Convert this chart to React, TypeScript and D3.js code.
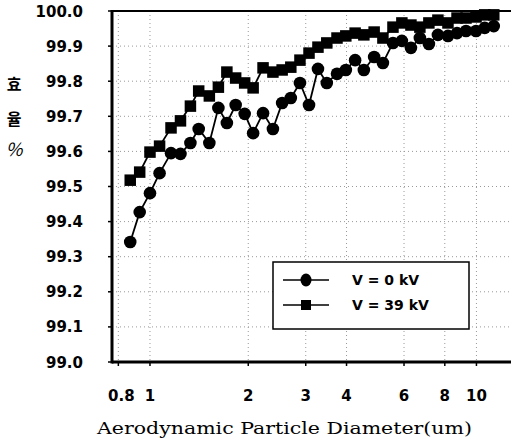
import React from "react";
import * as d3 from "d3";

const diameters = [0.87, 0.93, 1.0, 1.07, 1.16, 1.24, 1.33, 1.41, 1.52, 1.62, 1.72, 1.83, 1.95, 2.07, 2.22, 2.38, 2.54, 2.7, 2.88, 3.07, 3.27, 3.48, 3.74, 3.98, 4.25, 4.52, 4.86, 5.17, 5.55, 5.91, 6.3, 6.71, 7.15, 7.62, 8.18, 8.72, 9.29, 9.97, 10.6, 11.3];

const eff0kV = [99.342, 99.427, 99.481, 99.538, 99.595, 99.593, 99.624, 99.664, 99.624, 99.724, 99.681, 99.732, 99.707, 99.652, 99.709, 99.664, 99.738, 99.752, 99.795, 99.732, 99.835, 99.795, 99.821, 99.832, 99.86, 99.832, 99.869, 99.852, 99.909, 99.915, 99.895, 99.923, 99.906, 99.932, 99.929, 99.937, 99.943, 99.943, 99.952, 99.957];

const eff39kV = [99.518, 99.541, 99.598, 99.615, 99.667, 99.687, 99.729, 99.772, 99.758, 99.783, 99.826, 99.809, 99.795, 99.781, 99.838, 99.826, 99.832, 99.84, 99.86, 99.88, 99.897, 99.909, 99.923, 99.929, 99.937, 99.932, 99.94, 99.923, 99.954, 99.966, 99.96, 99.954, 99.966, 99.974, 99.966, 99.98, 99.98, 99.983, 99.989, 99.989];

const yTicks = [99.0, 99.1, 99.2, 99.3, 99.4, 99.5, 99.6, 99.7, 99.8, 99.9, 100.0];
const xTicks = [0.8, 1, 2, 3, 4, 6, 8, 10];
const xTickLabels = ["0.8", "1", "2", "3", "4", "6", "8", "10"];
const seriesNames = ["V = 0 kV", "V = 39 kV"];
const yLabelChars = ["효", "율", "%"];
const xTitle = "Aerodynamic Particle Diameter(um)";

const W = 511, H = 444;
const L = 112, R = 511, T = 11, B = 362;

export default function App() {
  const x = d3.scaleLog().domain([0.765, 12.76]).range([L, R]);
  const y = d3.scaleLinear().domain([99, 100]).range([B, T]);
  const line = d3.line<number>().x((_, i) => x(diameters[i])).y((v) => y(v));
  const sans = "DejaVu Sans, sans-serif";
  const circleR = 6.3;
  const sq = 11.5;

  return (
    <svg width={W} height={H} style={{ position: "absolute", left: 0, top: 0, background: "#fff" }}>
      <rect width={W} height={H} fill="#fff" />
      {/* grid */}
      {yTicks.filter((t) => t > 99 && t < 100).map((t) => (
        <line key={"gy" + t} x1={L} x2={R} y1={y(t)} y2={y(t)} stroke="#999" strokeWidth={1} strokeDasharray="1,3" />
      ))}
      {xTicks.map((t) => (
        <line key={"gx" + t} x1={x(t)} x2={x(t)} y1={T} y2={B} stroke="#999" strokeWidth={1} strokeDasharray="1,3" />
      ))}
      {/* axes frame */}
      <line x1={L} x2={R} y1={T} y2={T} stroke="#000" strokeWidth={2} />
      <line x1={L} x2={R} y1={B} y2={B} stroke="#000" strokeWidth={3} />
      <line x1={L} x2={L} y1={T - 1} y2={B + 1.5} stroke="#000" strokeWidth={3} />
      {/* y ticks & labels */}
      {yTicks.map((t) => (
        <g key={"yt" + t}>
          <line x1={L - 4} x2={L} y1={y(t)} y2={y(t)} stroke="#000" strokeWidth={1.5} />
          <text x={83} y={y(t) + 5.5} textAnchor="end" fontFamily={sans} fontWeight="bold" fontSize={15} fill="#000">
            {d3.format(".1f")(t)}
          </text>
        </g>
      ))}
      {/* x ticks & labels */}
      {xTicks.map((t, i) => (
        <g key={"xt" + t}>
          <line x1={x(t)} x2={x(t)} y1={B} y2={B + 4} stroke="#000" strokeWidth={1.5} />
          <text x={x(t) + (i === 0 ? 3 : 0)} y={401} textAnchor="middle" fontFamily={sans} fontWeight="bold" fontSize={15} fill="#000">
            {xTickLabels[i]}
          </text>
        </g>
      ))}
      {/* y label */}
      {yLabelChars.map((c, i) => (
        <text key={"yl" + i} x={14} y={(i === 2 ? 156 : 90) + (i === 1 ? 35 : 0)} textAnchor="middle" fontFamily="'Noto Sans CJK KR', sans-serif" fontWeight={i === 2 ? "normal" : "bold"} fontSize={i === 2 ? 18 : 16} fontStyle={i === 2 ? "italic" : "normal"} fill="#000">
          {c}
        </text>
      ))}
      {/* x title */}
      <text x={97} y={434} fontFamily="DejaVu Serif, serif" fontSize={17} textLength={375} lengthAdjust="spacingAndGlyphs" fill="#000">
        {xTitle}
      </text>
      {/* series lines */}
      <path d={line(eff0kV) || ""} fill="none" stroke="#000" strokeWidth={1.8} />
      <path d={line(eff39kV) || ""} fill="none" stroke="#000" strokeWidth={1.8} />
      {eff39kV.map((v, i) => (
        <rect key={"s" + i} x={x(diameters[i]) - sq / 2} y={y(v) - sq / 2} width={sq} height={sq} fill="#000" />
      ))}
      {eff0kV.map((v, i) => (
        <circle key={"c" + i} cx={x(diameters[i])} cy={y(v)} r={circleR} fill="#000" />
      ))}
      {/* legend */}
      <rect x={273} y={262} width={196} height={67} fill="#fff" stroke="#000" strokeWidth={1.5} />
      <line x1={283} x2={329} y1={280} y2={280} stroke="#000" strokeWidth={1.5} />
      <ellipse cx={306} cy={280} rx={5.5} ry={6.5} fill="#000" />
      <text x={352} y={285} fontFamily={sans} fontWeight="bold" fontSize={14} fill="#000">{seriesNames[0]}</text>
      <line x1={283} x2={329} y1={305} y2={305} stroke="#000" strokeWidth={1.5} />
      <rect x={301} y={300} width={10} height={10} fill="#000" />
      <text x={352} y={310} fontFamily={sans} fontWeight="bold" fontSize={14} fill="#000">{seriesNames[1]}</text>
    </svg>
  );
}
